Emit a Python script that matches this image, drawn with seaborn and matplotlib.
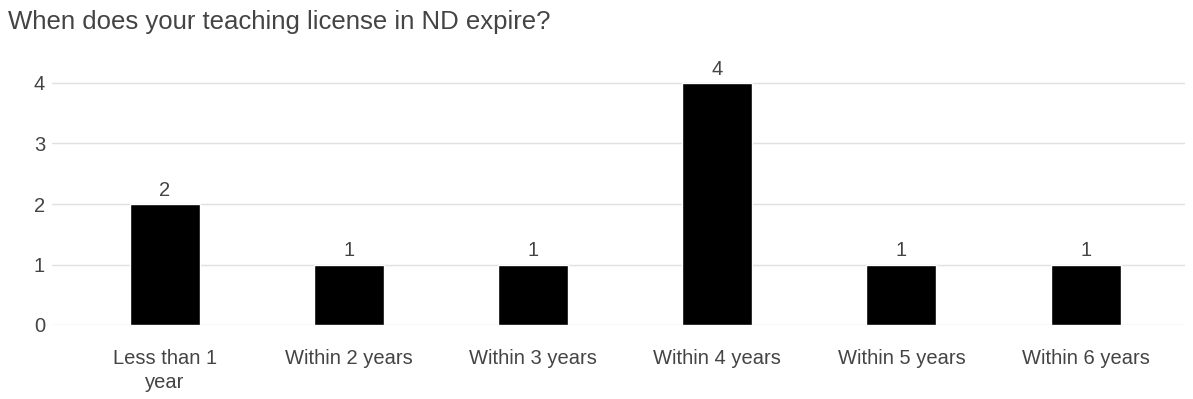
import matplotlib
matplotlib.use("Agg")
import matplotlib.pyplot as plt
import seaborn as sns
import pandas as pd

categories = ["Less than 1\nyear", "Within 2 years", "Within 3 years",
              "Within 4 years", "Within 5 years", "Within 6 years"]
counts = [2, 1, 1, 4, 1, 1]
title = "When does your teaching license in ND expire?"

df = pd.DataFrame({"category": categories, "count": counts})

sns.set_theme(style="white")
plt.rcParams["font.family"] = ["Liberation Sans", "DejaVu Sans"]
text_color = "#444444"

fig = plt.figure(figsize=(11.93, 3.99), dpi=100)
ax = fig.add_axes([52 / 1193, 74 / 399, (1185 - 52) / 1193, (4.4 * 60.5) / 399])

sns.barplot(data=df, x="category", y="count", color="black", width=0.38,
            saturation=1, ax=ax, zorder=3)

for c in ax.containers:
    ax.bar_label(c, padding=3, fontsize=14.5, color=text_color)

ax.set_xlim(-0.614, 5.54)
ax.set_ylim(0, 4.4)
ax.set_yticks([0, 1, 2, 3, 4])
ax.yaxis.grid(True, color="#e0e0e0", linewidth=1, zorder=0)
ax.set_xlabel("")
ax.set_ylabel("")
for s in ax.spines.values():
    s.set_visible(False)
ax.tick_params(axis="both", length=0, labelsize=14.5, labelcolor=text_color)
ax.tick_params(axis="y", pad=5)
ax.tick_params(axis="x", pad=17)
for lbl in ax.get_xticklabels():
    lbl.set_linespacing(1.35)

fig.text(8 / 1193, 1 - 22 / 399, title, fontsize=18.5, color=text_color,
         va="center", ha="left")

fig.savefig("out.png", dpi=100)
